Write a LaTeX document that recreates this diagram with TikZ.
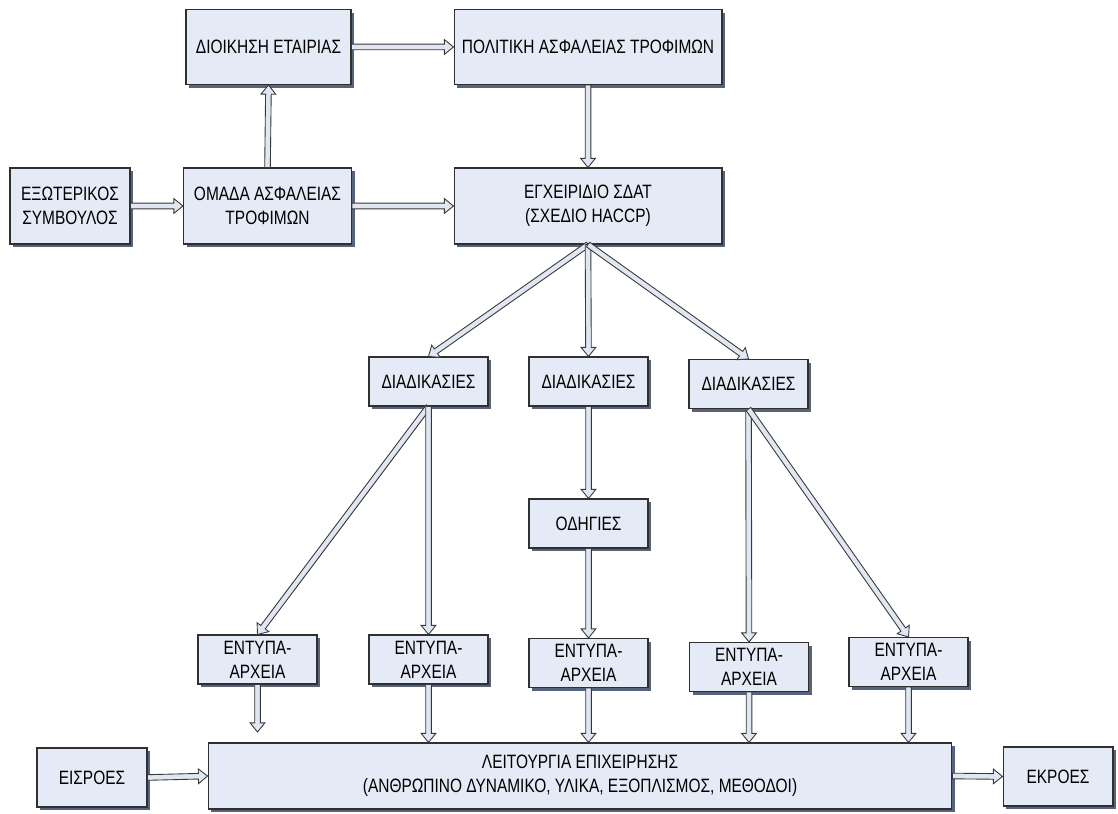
\documentclass[tikz,border=0pt]{standalone}
\usepackage{fontspec}
\setmainfont{Liberation Sans}[FakeStretch=0.8]
\usetikzlibrary{calc,shadows}

\definecolor{boxfill}{HTML}{E4EAF6}
\definecolor{boxline}{HTML}{303030}
\definecolor{boxshadow}{HTML}{56647E}
\definecolor{arrowfill}{HTML}{E0E6F2}
\definecolor{arrowline}{HTML}{383838}

\tikzset{
  box/.style={draw=boxline, fill=boxfill, line width=0.6pt, align=center, inner sep=2pt,
    font=\fontsize{11}{13.6}\selectfont,
    drop shadow={shadow xshift=1.8pt, shadow yshift=-1.8pt, fill=boxshadow, opacity=1}},
  bigbox/.style={box, minimum width=5.36cm, minimum height=1.5cm},
  midbox/.style={box, minimum width=3.36cm, minimum height=1.5cm},
  smallbox/.style={box, minimum width=2.38cm, minimum height=0.98cm},
  endbox/.style={box, minimum width=2.2cm, minimum height=1.18cm},
  blockarrow/.style={draw=arrowline, fill=arrowfill, line width=0.5pt, line join=miter,
    to path={let \p1=($(\tikztotarget)!5.2pt!(\tikztostart)$) in
      ($(\tikztostart)!1.6pt!90:(\tikztotarget)$)
      -- ($(\p1)!1.6pt!90:(\tikztotarget)$)
      -- ($(\p1)!4.2pt!90:(\tikztotarget)$)
      -- (\tikztotarget)
      -- ($(\p1)!4.2pt!-90:(\tikztotarget)$)
      -- ($(\p1)!1.6pt!-90:(\tikztotarget)$)
      -- ($(\tikztostart)!1.6pt!-90:(\tikztotarget)$)
      -- cycle}}
}

\begin{document}
\begin{tikzpicture}[x=0.02cm, y=-0.02cm]
  \useasboundingbox (0,0) rectangle (1118,814);

  \node[midbox, minimum width=3.3cm] (dioikisi) at (268.5,47) {ΔΙΟΙΚΗΣΗ ΕΤΑΙΡΙΑΣ};
  \node[bigbox] (politiki) at (588,47) {ΠΟΛΙΤΙΚΗ ΑΣΦΑΛΕΙΑΣ ΤΡΟΦΙΜΩΝ};
  \node[box, minimum width=2.4cm, minimum height=1.52cm] (symvoulos) at (70,206) {ΕΞΩΤΕΡΙΚΟΣ\\ΣΥΜΒΟΥΛΟΣ};
  \node[midbox, minimum height=1.52cm] (omada) at (267.5,206) {ΟΜΑΔΑ ΑΣΦΑΛΕΙΑΣ\\ΤΡΟΦΙΜΩΝ};
  \node[bigbox, minimum height=1.52cm] (egxeiridio) at (588,206) {ΕΓΧΕΙΡΙΔΙΟ ΣΔΑΤ\\(ΣΧΕΔΙΟ HACCP)};

  \node[smallbox] (diad1) at (428.5,381.5) {ΔΙΑΔΙΚΑΣΙΕΣ};
  \node[smallbox] (diad2) at (588.5,381.5) {ΔΙΑΔΙΚΑΣΙΕΣ};
  \node[smallbox] (diad3) at (748.5,384) {ΔΙΑΔΙΚΑΣΙΕΣ};
  \node[smallbox] (odigies) at (588.5,523.5) {ΟΔΗΓΙΕΣ};

  \node[smallbox] (entypa1) at (257.5,659.5) {ΕΝΤΥΠΑ-\\ΑΡΧΕΙΑ};
  \node[smallbox] (entypa2) at (428.5,659.5) {ΕΝΤΥΠΑ-\\ΑΡΧΕΙΑ};
  \node[smallbox] (entypa3) at (588.5,663) {ΕΝΤΥΠΑ-\\ΑΡΧΕΙΑ};
  \node[smallbox] (entypa4) at (749,667) {ΕΝΤΥΠΑ-\\ΑΡΧΕΙΑ};
  \node[smallbox] (entypa5) at (908.5,662) {ΕΝΤΥΠΑ-\\ΑΡΧΕΙΑ};

  \node[box, minimum width=14.88cm, minimum height=1.32cm] (leitourgia) at (580,776)
    {ΛΕΙΤΟΥΡΓΙΑ ΕΠΙΧΕΙΡΗΣΗΣ\\(ΑΝΘΡΩΠΙΝΟ ΔΥΝΑΜΙΚΟ, ΥΛΙΚΑ, ΕΞΟΠΛΙΣΜΟΣ, ΜΕΘΟΔΟΙ)};
  \node[endbox] (eisroes) at (92,777.5) {ΕΙΣΡΟΕΣ};
  \node[endbox] (ekroes) at (1058,776.5) {ΕΚΡΟΕΣ};

  \coordinate (end1) at (257.5,732);
  \coordinate (end2) at (entypa2.south |- leitourgia.north);
  \coordinate (end3) at (entypa3.south |- leitourgia.north);
  \coordinate (end4) at (entypa4.south |- leitourgia.north);
  \coordinate (end5) at (entypa5.south |- leitourgia.north);

  % top part
  \path[blockarrow] (dioikisi.east) to (politiki.west);
  \path[blockarrow] (omada.north) to (dioikisi.south);
  \path[blockarrow] (symvoulos.east) to (omada.west);
  \path[blockarrow] (omada.east) to (egxeiridio.west);
  \path[blockarrow] (politiki.south) to (egxeiridio.north);

  \path[blockarrow] (egxeiridio.south) to (diad1.north);
  \path[blockarrow] (egxeiridio.south) to (diad2.north);
  \path[blockarrow] (egxeiridio.south) to (diad3.north);

  \path[blockarrow] (diad1.south) to (entypa1.north);
  \path[blockarrow] (diad1.south) to (entypa2.north);
  \path[blockarrow] (diad2.south) to (odigies.north);
  \path[blockarrow] (odigies.south) to (entypa3.north);
  \path[blockarrow] (diad3.south) to (entypa4.north);
  \path[blockarrow] (diad3.south) to (entypa5.north);

  % bottom part
  \path[blockarrow] (entypa1.south) to (end1);
  \path[blockarrow] (entypa2.south) to (end2);
  \path[blockarrow] (entypa3.south) to (end3);
  \path[blockarrow] (entypa4.south) to (end4);
  \path[blockarrow] (entypa5.south) to (end5);
  \path[blockarrow] (eisroes.east) to (leitourgia.west);
  \path[blockarrow] (leitourgia.east) to (ekroes.west);

\end{tikzpicture}
\end{document}
